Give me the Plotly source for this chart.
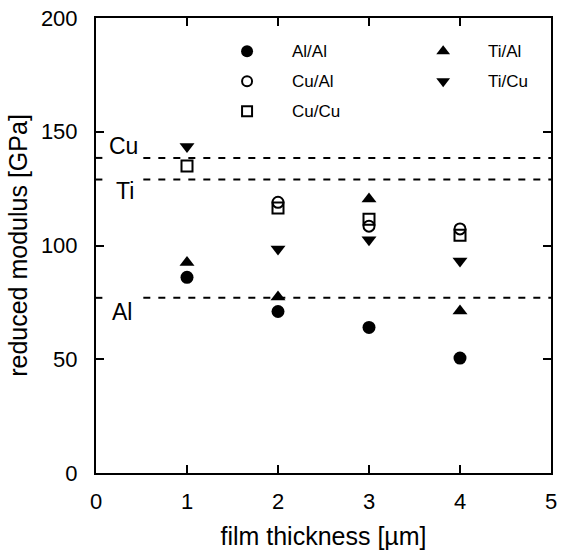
import plotly.graph_objects as go

# ---- data ----
x_alal = [1, 2, 3, 4]
y_alal = [86, 71, 64, 50.5]
x_cual = [2, 3, 4]
y_cual = [119, 108.5, 107.3]
x_cucu = [1, 2, 3, 4]
y_cucu = [135, 116.5, 111.5, 104.5]
x_tial = [1, 2, 3, 4]
y_tial = [92.5, 77.4, 120.4, 71.2]
x_ticu = [1, 2, 3, 4]
y_ticu = [143.5, 98.5, 102.5, 93.2]

ref_names = ["Cu", "Ti", "Al"]
ref_values = [138.5, 129, 77]
ref_label_y = [143.7, 123.8, 70.8]

x_ticks = [0, 1, 2, 3, 4, 5]
y_ticks = [0, 50, 100, 150, 200]

series = [
    ("Al/Al", x_alal, y_alal, "circle", 13),
    ("Cu/Al", x_cual, y_cual, "circle-open", 11),
    ("Cu/Cu", x_cucu, y_cucu, "square-open", 11),
    ("Ti/Al", x_tial, y_tial, "triangle-up", 13),
    ("Ti/Cu", x_ticu, y_ticu, "triangle-down", 13),
]

FONT = "Liberation Sans, Arial, sans-serif"

fig = go.Figure()

# reference dashed lines
shapes = []
for name, v in zip(ref_names, ref_values):
    shapes.append(dict(type="line", xref="x", yref="y", x0=0, x1=0.07, y0=v, y1=v,
                       line=dict(color="black", width=2)))
    shapes.append(dict(type="line", xref="x", yref="y", x0=0.52, x1=5, y0=v, y1=v,
                       line=dict(color="black", width=2, dash="7px,8px")))

for name, xs, ys, sym, sz in series:
    fig.add_trace(go.Scatter(
        x=xs, y=ys, mode="markers", name=name, showlegend=False,
        marker=dict(symbol=sym, size=sz, color="black",
                    line=dict(color="black", width=2 if "open" in sym else 0)),
    ))

# manual legend (overlay axes in unit coordinates)
legend_pos = {
    "Al/Al": (0.332, 0.927),
    "Cu/Al": (0.332, 0.861),
    "Cu/Cu": (0.332, 0.795),
    "Ti/Al": (0.763, 0.927),
    "Ti/Cu": (0.763, 0.861),
}
annotations = []
for name, xs, ys, sym, sz in series:
    lx, ly = legend_pos[name]
    fig.add_trace(go.Scatter(
        x=[lx], y=[ly], mode="markers", showlegend=False, xaxis="x2", yaxis="y2",
        marker=dict(symbol=sym, size=sz - 1, color="black",
                    line=dict(color="black", width=2 if "open" in sym else 0)),
        hoverinfo="skip",
    ))
    annotations.append(dict(xref="paper", yref="paper", x=lx + 0.094, y=ly,
                            xanchor="left", yanchor="middle", text=name,
                            showarrow=False, font=dict(family=FONT, size=17, color="black")))

label_x = [0.30, 0.32, 0.29]
for name, lx, ly in zip(ref_names, label_x, ref_label_y):
    annotations.append(dict(xref="x", yref="y", x=lx, y=ly, text=name, showarrow=False,
                            xanchor="center", yanchor="middle",
                            font=dict(family=FONT, size=23, color="black")))

fig.update_layout(
    width=561, height=550,
    margin=dict(l=96, r=10, t=18, b=77),
    paper_bgcolor="white", plot_bgcolor="white",
    font=dict(family=FONT, color="black"),
    shapes=shapes, annotations=annotations,
    xaxis=dict(range=[0, 5], tickvals=x_ticks, ticks="inside", ticklen=8, tickwidth=1.5,
               tickcolor="black", showline=True, linecolor="black", linewidth=2,
               mirror="ticks", showgrid=False, zeroline=False, automargin=False,
               tickfont=dict(size=22), ticklabelstandoff=8,
               title=dict(text="film thickness [µm]", font=dict(size=25), standoff=14)),
    yaxis=dict(range=[0, 200], tickvals=y_ticks, ticks="inside", ticklen=8, tickwidth=1.5,
               tickcolor="black", showline=True, linecolor="black", linewidth=2,
               mirror="ticks", showgrid=False, zeroline=False, automargin=False,
               tickfont=dict(size=22), ticklabelstandoff=12,
               title=dict(text="reduced modulus [GPa]", font=dict(size=25), standoff=6)),
    xaxis2=dict(overlaying="x", range=[0, 1], visible=False),
    yaxis2=dict(overlaying="y", range=[0, 1], visible=False),
    showlegend=False,
)

fig.write_html("out.html")
